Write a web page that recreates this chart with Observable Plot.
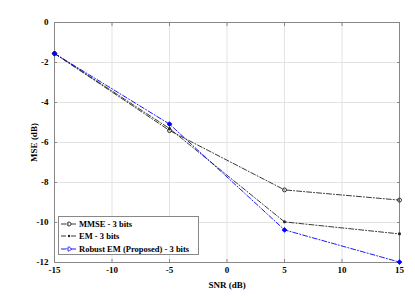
<!DOCTYPE html>
<html><head><meta charset="utf-8">
<script src="https://cdn.jsdelivr.net/npm/d3@7"></script>
<script src="https://cdn.jsdelivr.net/npm/@observablehq/plot@0.6"></script>
<style>
body{margin:0;background:#fff;}
#wrap{position:relative;width:415px;height:296px;font-family:"Liberation Serif","DejaVu Serif",serif;}
#legend{position:absolute;left:58px;top:216px;width:141px;height:39px;border:1px solid #888;background:#fff;box-sizing:border-box;font-weight:bold;font-size:8.5px;color:#000;padding-top:1px;}
#legend div{height:12.3px;display:flex;align-items:center;white-space:nowrap;}
#legend svg{margin:0 2px 0 2px;}
</style></head><body>
<div id="wrap"><div id="legend"></div></div>
<script>
const snr = [-15, -5, 5, 15];
const mmse = [-1.55, -5.4, -8.37, -8.88];
const em = [-1.55, -5.3, -9.97, -10.57];
const robust = [-1.55, -5.08, -10.37, -11.98];
const seriesNames = ["MMSE - 3 bits", "EM - 3 bits", "Robust EM (Proposed) - 3 bits"];
const xTicks = [-15, -10, -5, 0, 5, 10, 15];
const yTicks = [0, -2, -4, -6, -8, -10, -12];

const colors = ["#222", "#222", "#0000ff"];
const dash = "5,2,1,2";
const vals = [mmse, em, robust];
const rows = [];
vals.forEach((v, i) => v.forEach((y, j) => rows.push({s: seriesNames[i], x: snr[j], y})));

const font = {fontFamily: "Liberation Serif", fontWeight: "bold", fontSize: 9, fill: "#000"};
const chart = Plot.plot({
  width: 415, height: 296,
  marginLeft: 54, marginRight: 16, marginTop: 22, marginBottom: 34,
  x: {domain: [-15, 15]},
  y: {domain: [-12, 0]},
  style: {fontFamily: "Liberation Serif", background: "#fff"},
  marks: [
    Plot.gridX(xTicks, {stroke: "#e3e3e3", strokeOpacity: 1}),
    Plot.gridY(yTicks, {stroke: "#e3e3e3", strokeOpacity: 1}),
    Plot.axisX(xTicks, {anchor: "bottom", tickSize: -3, text: null, label: null, stroke: "#888"}),
    Plot.axisX(xTicks, {anchor: "top", tickSize: -3, text: null, label: null, stroke: "#888"}),
    Plot.axisY(yTicks, {anchor: "left", tickSize: -3, text: null, stroke: "#888", label: null}),
    Plot.axisY(yTicks, {anchor: "right", tickSize: -3, text: null, label: null, stroke: "#888"}),
    Plot.axisX(xTicks, {anchor: "bottom", tickSize: 0, tickPadding: 4, label: "SNR (dB)", labelAnchor: "center", labelArrow: "none", labelOffset: 25, ...font, tickFormat: d => d}),
    Plot.axisY(yTicks, {anchor: "left", tickSize: 0, tickPadding: 6, label: "MSE (dB)", labelAnchor: "center", labelArrow: "none", labelOffset: 24, ...font, tickFormat: d => d}),
    Plot.frame({stroke: "#888"}),
    Plot.line(rows, {x: "x", y: "y", z: "s", stroke: "s", strokeWidth: 0.9, strokeDasharray: dash}),
    Plot.dot(rows.filter(d => d.s === seriesNames[0]), {x: "x", y: "y", r: 2, stroke: colors[0], fill: "none", strokeWidth: 0.9}),
    Plot.dot(rows.filter(d => d.s === seriesNames[1]), {x: "x", y: "y", r: 1.3, fill: colors[1], stroke: colors[1], symbol: "asterisk"}),
    Plot.dot(rows.filter(d => d.s === seriesNames[2]), {x: "x", y: "y", r: 2.2, fill: colors[2], stroke: colors[2], symbol: "diamond2", strokeWidth: 0.8})
  ],
  color: {domain: seriesNames, range: colors}
});
document.getElementById("wrap").prepend(chart);
chart.style.position = "absolute"; chart.style.left = "0"; chart.style.top = "0";

const leg = document.getElementById("legend");
const markerSvg = [
  `<circle cx="8" cy="4" r="2" fill="none" stroke="#222" stroke-width="0.9"/>`,
  `<circle cx="8" cy="4" r="1.2" fill="#222"/>`,
  `<path d="M8,1.6L10.4,4L8,6.4L5.6,4Z" fill="none" stroke="#0000ff" stroke-width="0.9"/>`
];
seriesNames.forEach((n, i) => {
  const d = document.createElement("div");
  d.innerHTML = `<svg width="16" height="8"><line x1="0" y1="4" x2="16" y2="4" stroke="${colors[i]}" stroke-width="0.9" stroke-dasharray="${dash}"/>${markerSvg[i]}</svg><span>${n}</span>`;
  leg.appendChild(d);
});
</script>
</body></html>
